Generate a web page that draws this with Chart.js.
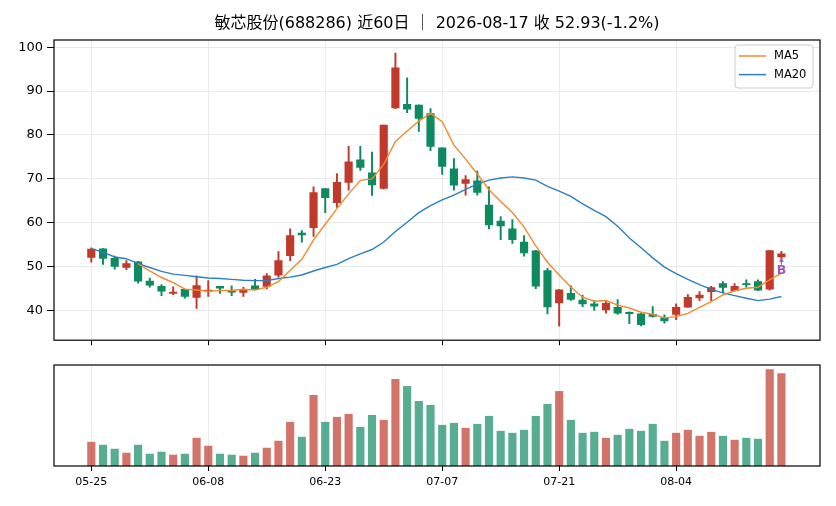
<!DOCTYPE html>
<html>
<head>
<meta charset="utf-8">
<script src="https://cdn.jsdelivr.net/npm/chart.js@4.4.1/dist/chart.umd.min.js"></script>
<style>
  html, body { margin: 0; padding: 0; background: #ffffff; }
  #wrap { position: relative; width: 836px; height: 506px; overflow: hidden; }
  #c1 { position: absolute; left: 0; top: 0; }
  #c2 { position: absolute; left: 0; top: 352px; }
</style>
</head>
<body>
<div id="wrap">
  <canvas id="c1" width="836" height="352"></canvas>
  <canvas id="c2" width="836" height="154"></canvas>
</div>
<script>
// ---------------- data ----------------
const titleText = '敏芯股份(688286) 近60日 ｜ 2026-08-17 收 52.93(-1.2%)';

const dates = [
  '05-25','05-26','05-27','05-28','05-29',
  '06-01','06-02','06-03','06-04','06-05',
  '06-08','06-09','06-10','06-11','06-12',
  '06-15','06-16','06-17','06-18',
  '06-22','06-23','06-24','06-25','06-26',
  '06-29','06-30','07-01','07-02','07-03',
  '07-06','07-07','07-08','07-09','07-10',
  '07-13','07-14','07-15','07-16','07-17',
  '07-20','07-21','07-22','07-23','07-24',
  '07-27','07-28','07-29','07-30','07-31',
  '08-03','08-04','08-05','08-06','08-07',
  '08-10','08-11','08-12','08-13','08-14',
  '08-17'
];

const opens = [
  52.1, 54.05, 51.87, 49.84, 51.12, 46.68, 45.48, 43.9, 44.8, 43.0,
  44.4, 45.48, 44.5, 44.13, 45.64, 45.5, 48.03, 52.5, 57.66, 58.86,
  67.8, 64.6, 69.2, 74.35, 71.4, 67.8, 86.15, 87.0, 86.8, 84.9,
  77.06, 72.3, 68.94, 69.55, 64.05, 60.4, 58.6, 55.6, 53.6, 49.1,
  41.7, 43.9, 42.4, 41.5, 40.15, 40.75, 39.6, 39.25, 39.1, 38.3,
  39.1, 40.75, 42.85, 44.3, 46.15, 44.5, 46.15, 46.6, 44.87, 52.2
];
const highs = [
  54.3, 54.1, 52.4, 51.4, 51.2, 47.4, 45.9, 45.4, 44.9, 47.9,
  46.8, 45.5, 45.6, 45.3, 47.1, 48.4, 53.4, 58.6, 58.2, 68.2,
  67.8, 71.2, 77.4, 77.4, 76.1, 82.25, 98.65, 93.0, 86.9, 86.0,
  77.1, 74.6, 70.75, 71.8, 68.2, 61.4, 60.7, 57.1, 53.7, 49.6,
  44.8, 45.6, 43.5, 42.25, 42.25, 42.5, 39.7, 39.3, 40.9, 39.0,
  41.5, 43.6, 44.3, 45.5, 46.6, 46.15, 47.0, 47.0, 53.67, 53.5
];
const lows = [
  51.0, 50.5, 49.4, 49.3, 46.2, 45.3, 43.4, 43.6, 42.8, 40.5,
  43.2, 43.9, 43.4, 43.2, 44.8, 44.9, 47.6, 51.35, 55.6, 56.9,
  62.3, 63.5, 67.4, 71.9, 66.2, 67.65, 86.0, 85.1, 80.8, 76.45,
  71.0, 67.4, 66.3, 66.3, 58.6, 56.15, 55.3, 52.4, 45.0, 39.2,
  36.4, 42.3, 40.9, 40.0, 39.4, 39.1, 37.0, 36.5, 38.5, 37.1,
  37.9, 40.7, 42.25, 42.25, 44.05, 44.4, 45.25, 44.5, 44.65, 51.8
];
const closes = [
  54.0, 51.87, 50.06, 50.67, 46.68, 45.78, 44.42, 44.2, 43.2, 45.7,
  44.6, 45.1, 44.2, 44.65, 44.87, 47.9, 51.35, 57.1, 57.2, 66.9,
  65.7, 69.2, 73.9, 72.6, 68.6, 82.25, 95.3, 85.86, 83.8, 77.4,
  72.85, 68.55, 69.85, 66.9, 59.5, 59.3, 56.15, 53.15, 45.55, 40.8,
  44.7, 42.55, 41.5, 41.0, 41.65, 39.4, 39.25, 36.75, 38.65, 37.6,
  40.75, 43.0, 43.5, 45.25, 45.25, 45.5, 45.9, 44.65, 53.67, 52.93
];
const volumes = [
  24, 21, 17, 13, 21, 12, 14, 11, 12, 28,
  20, 12, 11, 10, 13, 18, 25, 44, 29, 71,
  44, 49, 52, 39, 51, 46, 87, 80, 65, 61,
  41, 43, 38, 42, 50, 35, 33, 36, 50, 62,
  75, 46, 33, 34, 28, 31, 37, 35, 42, 25,
  33, 36, 30, 34, 30, 26, 28, 27, 97, 93
];
const ma5 = [
  null, null, null, null, 50.66, 49.01, 47.52, 46.35, 44.86, 44.66,
  44.42, 44.56, 44.56, 44.85, 44.68, 45.34, 46.59, 49.17, 51.68, 56.09,
  59.65, 63.22, 66.58, 69.66, 70.0, 73.31, 78.53, 80.92, 83.16, 84.92,
  83.04, 77.69, 74.49, 71.11, 67.53, 64.82, 62.34, 59.0, 54.73, 50.99,
  48.07, 45.35, 43.02, 42.11, 42.28, 41.22, 40.56, 39.61, 39.14, 38.33,
  38.6, 39.35, 40.7, 42.02, 43.55, 44.5, 45.08, 45.31, 47.0, 48.53
];
const ma20 = [
  54.1, 53.3, 52.2, 51.8, 50.7, 49.8, 48.9, 48.3, 48.0, 47.7,
  47.4, 47.3, 47.1, 46.9, 46.8, 46.8, 47.3, 47.6, 48.1, 49.0,
  49.8, 50.5, 51.8, 52.9, 53.9, 55.6, 58.0, 60.1, 62.3, 63.9,
  65.2, 66.3, 67.6, 68.8, 69.7, 70.2, 70.45, 70.2, 69.7, 68.3,
  67.2, 66.0, 64.3, 62.8, 61.4, 59.2, 56.5, 54.3, 52.0, 49.9,
  48.4, 47.1, 45.9, 44.8, 44.0, 43.4, 42.8, 42.25, 42.6, 43.2
];
const priceTicks = [40, 50, 60, 70, 80, 90, 100];
const dateTickIndex = [0, 10, 20, 30, 40, 50];
const signalIndex = [59];
const signalText = ['B'];

// ---------------- style ----------------
const FONT = "'DejaVu Sans', 'Noto Sans CJK SC', sans-serif";
const UP = '#c0392b';
const DOWN = '#0e8a5f';
const UP_VOL = 'rgba(192,57,43,0.7)';
const DOWN_VOL = 'rgba(14,138,95,0.7)';
const MA5_COLOR = '#f28a2e';
const MA20_COLOR = '#2e7fc0';
const GRID = '#e6e6e6';
const X_MIN = -3.19, X_MAX = 62.3;

Chart.defaults.font.family = FONT;
Chart.defaults.color = '#000';

const idx = dates.map((d, i) => i);
const isUp = idx.map(i => closes[i] >= opens[i]);
const candleColors = isUp.map(u => u ? UP : DOWN);
const volColors = isUp.map(u => u ? UP_VOL : DOWN_VOL);

const framePlugin = {
  id: 'frame',
  afterDraw(chart) {
    const { ctx, chartArea: a } = chart;
    ctx.save();
    ctx.strokeStyle = '#000';
    ctx.lineWidth = 1.2;
    ctx.strokeRect(a.left, a.top, a.right - a.left, a.bottom - a.top);
    ctx.restore();
  }
};

const legendPlugin = {
  id: 'maLegend',
  afterDraw(chart) {
    const { ctx, chartArea: a } = chart;
    const items = chart.data.datasets.filter(d => d.type === 'line');
    const w = 78, h = 43;
    const x0 = a.right - 85, y0 = a.top + 5;
    ctx.save();
    ctx.beginPath();
    const r = 3;
    ctx.moveTo(x0 + r, y0);
    ctx.lineTo(x0 + w - r, y0); ctx.quadraticCurveTo(x0 + w, y0, x0 + w, y0 + r);
    ctx.lineTo(x0 + w, y0 + h - r); ctx.quadraticCurveTo(x0 + w, y0 + h, x0 + w - r, y0 + h);
    ctx.lineTo(x0 + r, y0 + h); ctx.quadraticCurveTo(x0, y0 + h, x0, y0 + h - r);
    ctx.lineTo(x0, y0 + r); ctx.quadraticCurveTo(x0, y0, x0 + r, y0);
    ctx.closePath();
    ctx.fillStyle = 'rgba(255,255,255,0.85)';
    ctx.fill();
    ctx.strokeStyle = '#cccccc';
    ctx.lineWidth = 1;
    ctx.stroke();
    ctx.font = '11.5px ' + FONT;
    ctx.textBaseline = 'middle';
    ctx.textAlign = 'left';
    items.forEach((ds, k) => {
      const yy = y0 + 11 + k * 18.6;
      ctx.strokeStyle = ds.borderColor;
      ctx.lineWidth = 1.5;
      ctx.beginPath();
      ctx.moveTo(x0 + 4, yy);
      ctx.lineTo(x0 + 31, yy);
      ctx.stroke();
      ctx.fillStyle = '#000';
      ctx.fillText(ds.label, x0 + 39, yy + 0.5);
    });
    ctx.restore();
  }
};

const signalPlugin = {
  id: 'signals',
  afterDatasetsDraw(chart) {
    const { ctx } = chart;
    const xs = chart.scales.x, ys = chart.scales.y;
    ctx.save();
    signalIndex.forEach((i, k) => {
      const px = xs.getPixelForValue(i);
      const py = ys.getPixelForValue(lows[i]);
      ctx.strokeStyle = '#9b59b6';
      ctx.fillStyle = '#9b59b6';
      ctx.lineWidth = 1.2;
      ctx.beginPath();
      ctx.moveTo(px, py + 6);
      ctx.lineTo(px, py + 1.5);
      ctx.stroke();
      ctx.beginPath();
      ctx.moveTo(px, py - 1);
      ctx.lineTo(px - 2.5, py + 3);
      ctx.lineTo(px + 2.5, py + 3);
      ctx.closePath();
      ctx.fill();
      ctx.font = 'bold 12.5px ' + FONT;
      ctx.textAlign = 'center';
      ctx.textBaseline = 'alphabetic';
      ctx.fillText(signalText[k], px, py + 15);
    });
    ctx.restore();
  }
};

const setDateTicks = (scale) => {
  scale.ticks = dateTickIndex.map(v => ({ value: v }));
};

// ---------------- price chart ----------------
new Chart(document.getElementById('c1'), {
  type: 'bar',
  data: {
    datasets: [
      {
        type: 'line', label: 'MA5', order: 0,
        data: idx.map(i => ({ x: i, y: ma5[i] })),
        borderColor: MA5_COLOR, borderWidth: 1.4, pointRadius: 0,
        tension: 0, spanGaps: false, fill: false
      },
      {
        type: 'line', label: 'MA20', order: 0,
        data: idx.map(i => ({ x: i, y: ma20[i] })),
        borderColor: MA20_COLOR, borderWidth: 1.4, pointRadius: 0,
        tension: 0, fill: false
      },
      {
        type: 'bar', label: 'body', order: 1, grouped: false,
        data: idx.map(i => ({ x: i, y: [opens[i], closes[i]] })),
        backgroundColor: candleColors, borderWidth: 0,
        barThickness: 7.5, minBarLength: 1
      },
      {
        type: 'bar', label: 'wick', order: 2, grouped: false,
        data: idx.map(i => ({ x: i, y: [lows[i], highs[i]] })),
        backgroundColor: candleColors, borderWidth: 0,
        barThickness: 1.3
      }
    ]
  },
  options: {
    responsive: false,
    animation: false,
    events: [],
    layout: { padding: { left: 0, right: 16, top: 0, bottom: 0 } },
    plugins: {
      legend: { display: false },
      tooltip: { enabled: false },
      title: {
        display: true, text: titleText, fullSize: false,
        color: '#000',
        font: { family: FONT, size: 16, weight: 'normal', lineHeight: 1.2 },
        padding: { top: 14, bottom: 6.8 }
      }
    },
    scales: {
      x: {
        type: 'linear', min: X_MIN, max: X_MAX, offset: false,
        afterBuildTicks: setDateTicks,
        ticks: { display: false },
        grid: { offset: false, color: GRID, lineWidth: 0.8, tickColor: '#000', tickWidth: 1, tickLength: 5, drawTicks: true },
        border: { display: false },
        afterFit: (s) => { s.height = 9; }
      },
      y: {
        type: 'linear', min: 33.23, max: 101.65,
        afterBuildTicks: (scale) => { scale.ticks = priceTicks.map(v => ({ value: v })); },
        ticks: { font: { family: FONT, size: 13 }, color: '#000', padding: 4 },
        grid: { offset: false, color: GRID, lineWidth: 0.8, tickColor: '#000', tickWidth: 1, tickLength: 7 },
        border: { display: false },
        afterFit: (s) => { s.width = 54; }
      }
    }
  },
  plugins: [framePlugin, legendPlugin, signalPlugin]
});

// ---------------- volume chart ----------------
new Chart(document.getElementById('c2'), {
  type: 'bar',
  data: {
    datasets: [
      {
        label: 'volume', grouped: false,
        data: idx.map(i => ({ x: i, y: volumes[i] })),
        backgroundColor: volColors, borderWidth: 0,
        barThickness: 7.5
      }
    ]
  },
  options: {
    responsive: false,
    animation: false,
    events: [],
    layout: { padding: { left: 54, right: 16, top: 13, bottom: 0 } },
    plugins: { legend: { display: false }, tooltip: { enabled: false }, title: { display: false } },
    scales: {
      x: {
        type: 'linear', min: X_MIN, max: X_MAX, offset: false,
        afterBuildTicks: setDateTicks,
        ticks: {
          font: { family: FONT, size: 11 }, color: '#000', padding: 5,
          maxRotation: 0, autoSkip: false,
          callback: (v) => dates[v]
        },
        grid: { offset: false, color: GRID, lineWidth: 0.8, tickColor: '#000', tickWidth: 1, tickLength: 5 },
        border: { display: false },
        afterFit: (s) => { s.height = 40; }
      },
      y: { display: false, min: 0, max: 101.5 }
    }
  },
  plugins: [framePlugin]
});
</script>
</body>
</html>
